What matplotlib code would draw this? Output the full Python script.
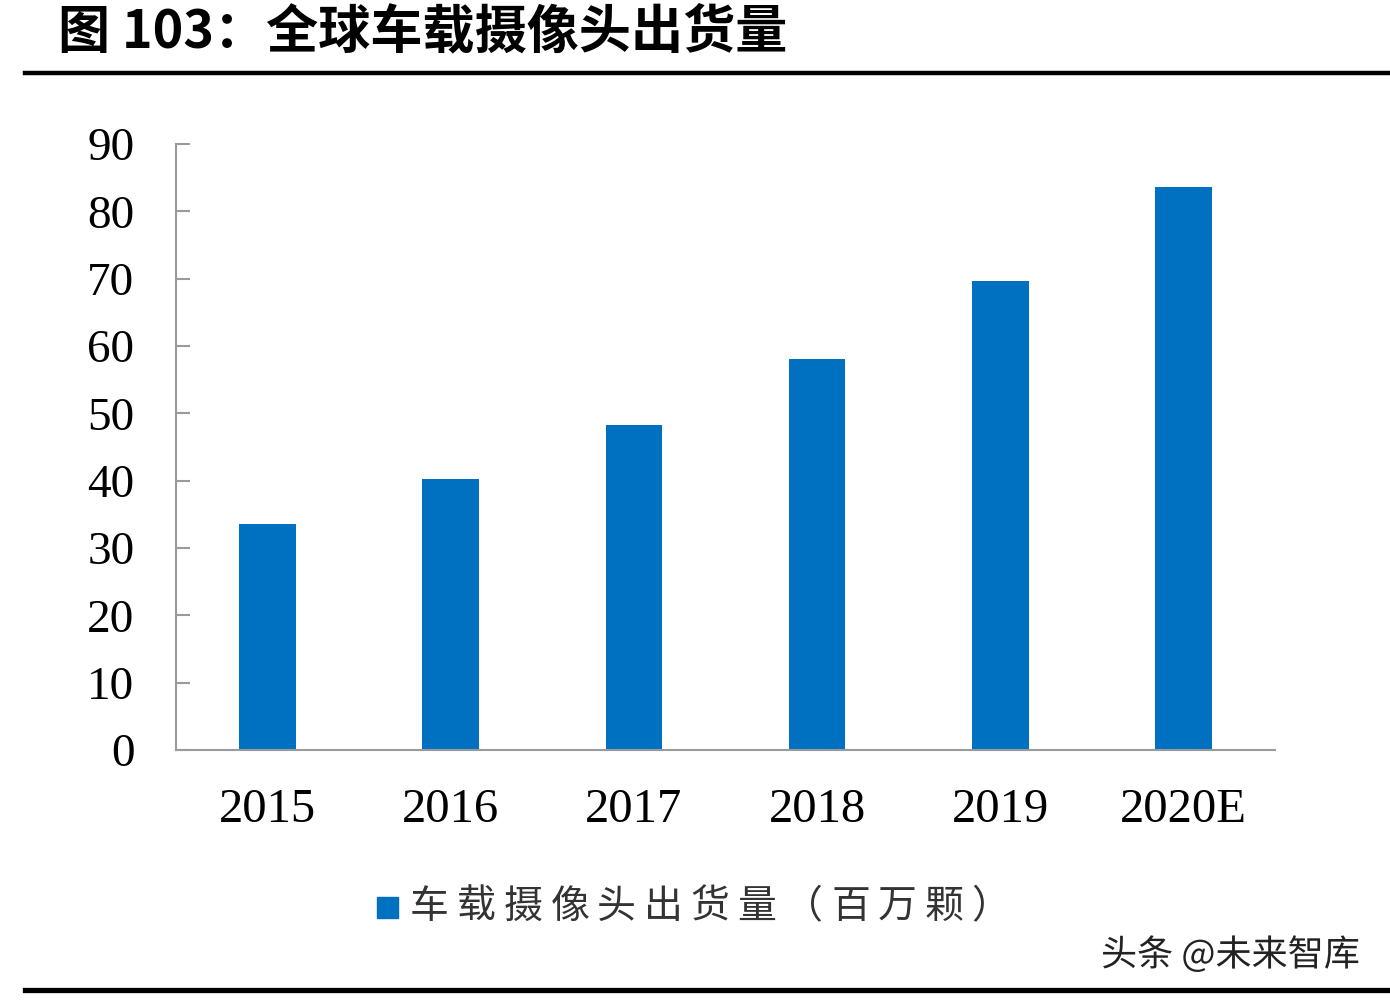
import matplotlib
matplotlib.use('Agg')
import matplotlib.pyplot as plt
import matplotlib.patheffects as pe
from matplotlib.patches import Rectangle
from matplotlib.lines import Line2D

# 数据
years = ['2015', '2016', '2017', '2018', '2019', '2020E']
shipments = [33.5, 40.2, 48.3, 58.1, 69.7, 83.6]
y_ticks = [0, 10, 20, 30, 40, 50, 60, 70, 80, 90]

title = '图 103：全球车载摄像头出货量'
legend_label = '车载摄像头出货量（百万颗）'
watermark = '头条 @未来智库'

bar_color = '#0070C0'
axis_color = '#9A9A9A'
cjk = ['Noto Sans CJK SC', 'DejaVu Sans']
serif = ['Liberation Serif', 'DejaVu Serif']

fig = plt.figure(figsize=(13.9, 10.02), dpi=100)
fig.patch.set_facecolor('white')

ax = fig.add_axes([176 / 1390, 1 - 750 / 1002, 1099 / 1390, 606 / 1002])
ax.bar(range(len(years)), shipments, width=0.31, color=bar_color, zorder=2)

ax.set_xlim(-0.5, len(years) - 0.5)
ax.set_ylim(0, 90)
ax.set_yticks(y_ticks)
ax.set_yticklabels([str(v) for v in y_ticks], family=serif, fontsize=34)
ax.set_xticks(range(len(years)))
ax.set_xticklabels(years, family=serif, fontsize=35)

for s in ['top', 'right']:
    ax.spines[s].set_visible(False)
for s in ['left', 'bottom']:
    ax.spines[s].set_color(axis_color)
    ax.spines[s].set_linewidth(1.5)

ax.tick_params(axis='y', direction='in', length=10, width=1.5, color=axis_color, pad=30)
ax.tick_params(axis='x', length=0, pad=27)

# 标题与分隔线
fig.text(58 / 1390, 1 - 32 / 1002, title, family=cjk, fontsize=37.5, weight='bold',
         ha='left', va='center', color='black')
fig.add_artist(Line2D([25 / 1390, 1.0], [1 - 73 / 1002] * 2, color='black', linewidth=3.2))
fig.add_artist(Line2D([25 / 1390, 1.0], [1 - 990 / 1002] * 2, color='black', linewidth=3.8))

# 图例（字间距较宽，逐字放置）
fig.add_artist(Rectangle((377 / 1390, 1 - 918 / 1002), 21 / 1390, 21 / 1002,
                         transform=fig.transFigure, color=bar_color))
pitch = 46.8
for i, ch in enumerate(legend_label):
    fig.text((412 + pitch * i + pitch / 2 - 6) / 1390, 1 - 907 / 1002, ch, family=cjk,
             fontsize=28, ha='center', va='center', color='#333333')

# 水印
fig.text(1360 / 1390, 1 - 955 / 1002, watermark, family=cjk, fontsize=26,
         ha='right', va='center', color='#222222',
         path_effects=[pe.withStroke(linewidth=3, foreground='white')])

fig.savefig('out.png', dpi=100, facecolor='white')
